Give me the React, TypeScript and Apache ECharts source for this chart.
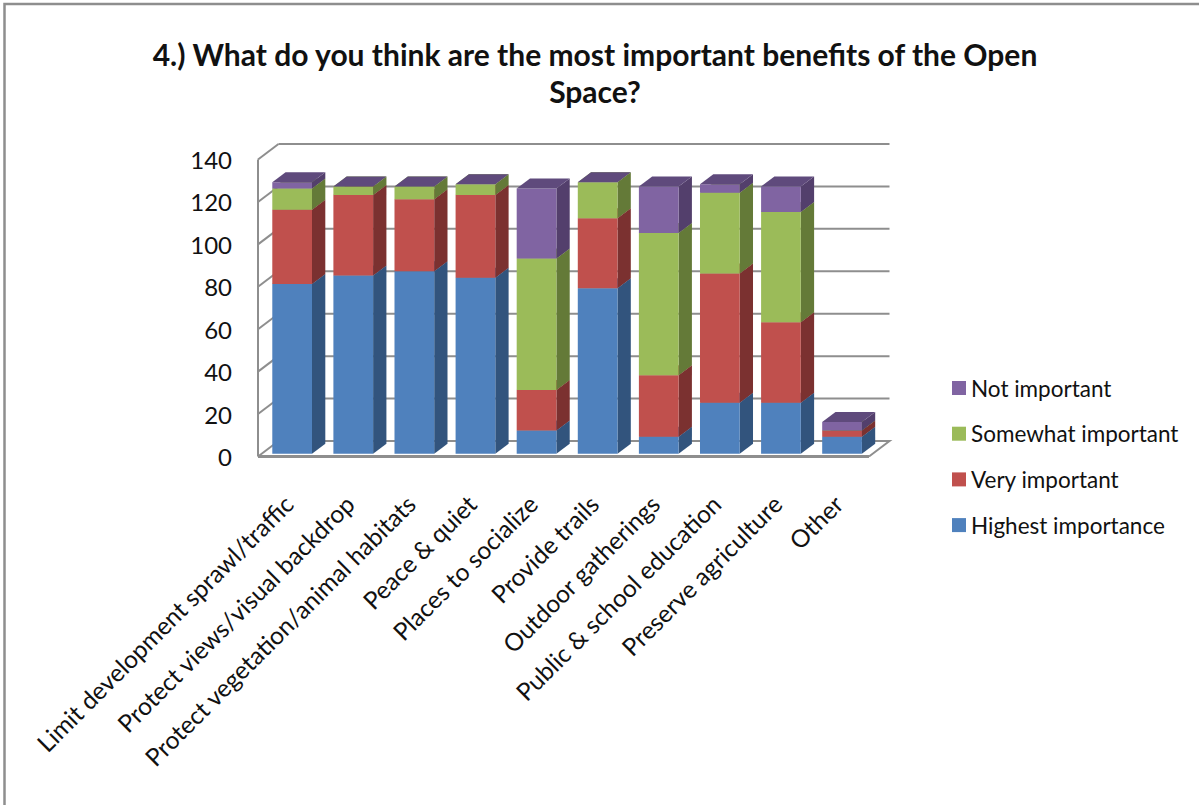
import React, { useEffect, useRef } from "react";
import * as echarts from "echarts";

const titleText = "4.) What do you think are the most important benefits of the Open\nSpace?";
const categories = [
  "Limit development sprawl/traffic",
  "Protect views/visual backdrop",
  "Protect vegetation/animal habitats",
  "Peace & quiet",
  "Places to socialize",
  "Provide trails",
  "Outdoor gatherings",
  "Public & school education",
  "Preserve agriculture",
  "Other",
];
const highest = [80, 84, 86, 83, 11, 78, 8, 24, 24, 8];
const very = [35, 38, 34, 39, 19, 33, 29, 61, 38, 3];
const somewhat = [10, 4, 6, 5, 62, 17, 67, 38, 52, 0];
const notImportant = [3, 0, 0, 0, 33, 0, 22, 4, 12, 4];
const yTicks = [0, 20, 40, 60, 80, 100, 120, 140];

const seriesDefs = [
  { name: "Highest importance", values: highest, front: "#4F81BD", side: "#32547D", top: "#3F6797" },
  { name: "Very important", values: very, front: "#C0504D", side: "#7B3130", top: "#98403E" },
  { name: "Somewhat important", values: somewhat, front: "#9BBB59", side: "#647A38", top: "#7C9647" },
  { name: "Not important", values: notImportant, front: "#8064A2", side: "#533F6C", top: "#5F4A7C" },
];

const WALL_DX = 20.5;
const WALL_DY = -15.5;
const BAR_DX = 13.3;
const BAR_DY = -10;
const BAR_RATIO = 0.65;
const GRID_COLOR = "#8E8E8E";
const FONT = "Lato";

function wallItem(params: any, api: any) {
  const cs = params.coordSys;
  const p = api.coord([0, api.value(1)]);
  const y = p[1];
  const xl = cs.x;
  const xr = cs.x + cs.width;
  const lineStyle = { stroke: GRID_COLOR, lineWidth: 2, fill: "none" };
  const children: any[] = [];
  if (api.value(1) === 0) {
    children.push({
      type: "polyline",
      shape: { points: [[xl + WALL_DX, y + WALL_DY], [xr + WALL_DX, y + WALL_DY], [xr, y]] },
      style: lineStyle,
    });
    children.push({
      type: "line",
      shape: { x1: xl, y1: y, x2: xr, y2: y },
      style: { stroke: GRID_COLOR, lineWidth: 3 },
    });
    children.push({
      type: "line",
      shape: { x1: xl, y1: y, x2: xl, y2: cs.y },
      style: lineStyle,
    });
  } else {
    children.push({
      type: "line",
      shape: { x1: xl + WALL_DX, y1: y + WALL_DY, x2: xr + WALL_DX, y2: y + WALL_DY },
      style: lineStyle,
    });
  }
  children.push({
    type: "line",
    shape: { x1: xl, y1: y, x2: xl + WALL_DX, y2: y + WALL_DY },
    style: lineStyle,
  });
  return { type: "group", children };
}

function makeBarItem(def: (typeof seriesDefs)[number]) {
  return (_params: any, api: any) => {
    const idx = api.value(0);
    const lo = api.coord([idx, api.value(1)]);
    const hi = api.coord([idx, api.value(2)]);
    const band = api.size([1, 0])[0];
    const w = band * BAR_RATIO;
    const ox = (WALL_DX - BAR_DX) / 2;
    const oy = (WALL_DY - BAR_DY) / 2;
    const x0 = lo[0] - w / 2 + ox;
    const x1 = x0 + w;
    const y0 = lo[1] + oy;
    const y1 = hi[1] + oy;
    const children: any[] = [];
    if (y0 - y1 > 0) {
      children.push({
        type: "polygon",
        shape: { points: [[x1, y0], [x1 + BAR_DX, y0 + BAR_DY], [x1 + BAR_DX, y1 + BAR_DY], [x1, y1]] },
        style: { fill: def.side },
      });
      children.push({
        type: "polygon",
        shape: { points: [[x0, y0], [x1, y0], [x1, y1], [x0, y1]] },
        style: { fill: def.front },
      });
    }
    children.push({
      type: "polygon",
      shape: { points: [[x0, y1], [x1, y1], [x1 + BAR_DX, y1 + BAR_DY], [x0 + BAR_DX, y1 + BAR_DY]] },
      style: { fill: def.top },
    });
    return { type: "group", children };
  };
}

export default function App() {
  const ref = useRef<HTMLDivElement>(null);
  useEffect(() => {
    if (!ref.current) return;
    const chart = echarts.init(ref.current, undefined, { renderer: "svg" });
    let running = categories.map(() => 0);
    const barSeries = seriesDefs.map((def) => {
      const data = def.values.map((v, i) => [i, running[i], running[i] + v]);
      running = running.map((r, i) => r + def.values[i]);
      return {
        type: "custom",
        name: def.name,
        silent: true,
        z: 5,
        itemStyle: { color: def.front },
        encode: { x: 0, y: [1, 2] },
        renderItem: makeBarItem(def),
        data,
      };
    });
    chart.setOption({
      animation: false,
      backgroundColor: "#FFFFFF",
      textStyle: { fontFamily: FONT },
      title: {
        text: titleText,
        left: 590,
        top: 30,
        textAlign: "center",
        textStyle: { fontFamily: FONT, fontWeight: "bold", fontSize: 30, lineHeight: 37, color: "#111111" },
      },
      legend: {
        orient: "vertical",
        left: 952,
        top: 376,
        padding: 0,
        icon: "rect",
        itemWidth: 14,
        itemHeight: 14,
        itemGap: 21.7,
        selectedMode: false,
        data: [...seriesDefs].reverse().map((d) => d.name),
        textStyle: { fontFamily: FONT, fontSize: 22.5, color: "#111111", height: 24, lineHeight: 24 },
      },
      grid: { left: 258, top: 159.5, width: 611, height: 297, containLabel: false },
      xAxis: {
        type: "category",
        data: categories,
        axisLine: { show: false },
        axisTick: { show: false },
        splitLine: { show: false },
        axisLabel: {
          interval: 0,
          rotate: 45,
          margin: 43,
          fontFamily: FONT,
          fontSize: 24.5,
          color: "#111111",
        },
      },
      yAxis: {
        type: "value",
        min: 0,
        max: 140,
        interval: 20,
        axisLine: { show: false },
        axisTick: { show: false },
        splitLine: { show: false },
        axisLabel: { margin: 26, fontFamily: FONT, fontSize: 24, color: "#111111" },
      },
      graphic: [
        {
          type: "polyline",
          silent: true,
          shape: { points: [[4.5, 805], [4.5, 4], [1199, 4]] },
          style: { stroke: "#8E8E8E", lineWidth: 2.5, fill: "none" },
        },
      ],
      series: [
        {
          type: "custom",
          name: "wall",
          silent: true,
          z: 1,
          encode: { x: 0, y: 1 },
          renderItem: wallItem,
          data: yTicks.map((t) => [0, t]),
        },
        ...barSeries,
      ],
    });
    return () => chart.dispose();
  }, []);
  return <div ref={ref} style={{ position: "absolute", left: 0, top: 0, width: 1199, height: 805 }} />;
}
